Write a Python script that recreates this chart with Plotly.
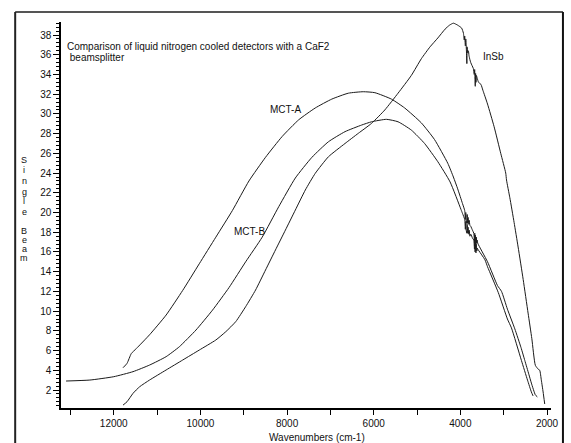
import plotly.graph_objects as go

# ---------------- data ----------------
mct_a_wn = [11786, 11694, 11595, 11480, 11174, 10792, 10409, 10027, 9644, 9262,
            8880, 8497, 8115, 7732, 7350, 6968, 6585, 6241, 5973, 5591, 5285,
            4903, 4597, 4291, 4161, 4062, 3950,
            3900, 3885, 3875, 3865, 3850, 3842, 3830, 3820, 3805, 3795, 3780,
            3760, 3720, 3690, 3675, 3668, 3660, 3652, 3640, 3632, 3620, 3610,
            3600, 3373, 3144, 3050, 2914, 2743, 2600, 2513, 2420, 2361, 2269, 2223]
mct_a_val = [4.26, 4.7, 5.7, 6.2, 7.6, 9.6, 12.1, 14.8, 17.5, 20.2,
             23.2, 25.6, 27.7, 29.4, 30.6, 31.5, 32.1, 32.25, 32.15, 31.5, 30.6,
             29.1, 27.4, 25.0, 23.6, 22.4, 20.9,
             20.2, 19.3, 20.0, 19.2, 18.9, 19.8, 18.9, 19.5, 18.8, 19.2, 18.7,
             18.6, 18.2, 17.9, 17.1, 17.9, 16.9, 17.7, 16.8, 17.5, 16.9, 17.2,
             16.9, 15.0, 12.6, 12.0, 10.2, 8.2, 6.3, 5.0, 3.6, 2.7, 1.5, 1.3]

mct_b_wn = [13101, 12551, 12000, 11556, 11174, 10792, 10486, 10103, 9721, 9338,
            8956, 8574, 8191, 7809, 7426, 7044, 6662, 6279, 6050, 5706, 5438,
            5132, 4826, 4520, 4237, 3985,
            3950, 3900, 3885, 3875, 3865, 3850, 3842, 3830, 3820, 3805, 3795,
            3780, 3760, 3720, 3690, 3675, 3668, 3660, 3652, 3640, 3632, 3620,
            3610, 3600, 3432, 3373, 3126, 2914, 2821, 2591, 2450, 2361, 2322]
mct_b_val = [2.91, 3.01, 3.35, 3.86, 4.53, 5.38, 6.39, 8.08, 10.1, 12.4,
             15.0, 17.5, 20.6, 23.5, 25.6, 27.18, 28.2, 28.87, 29.2, 29.45, 29.2,
             28.36, 27.0, 25.15, 23.1, 20.3,
             19.9, 19.3, 18.3, 19.1, 18.2, 17.9, 18.8, 17.9, 18.5, 17.8, 18.2,
             17.6, 17.8, 17.4, 17.2, 16.3, 17.1, 16.0, 16.9, 15.9, 16.8, 16.1,
             16.4, 16.3, 15.2, 14.5, 11.9, 9.2, 8.3, 5.0, 3.0, 1.8, 1.4]

insb_wn = [11786, 11694, 11556, 11403, 11174, 10792, 10409, 10027, 9644, 9415,
           9185, 8956, 8727, 8497, 8268, 8038, 7809, 7579, 7350, 7044, 6662,
           6356, 6050, 5744, 5438, 5132, 4900, 4700, 4520, 4352, 4250, 4161,
           4062, 3970, 3930,
           3910, 3900, 3885, 3875, 3860, 3850, 3845, 3830, 3815, 3800, 3780,
           3760, 3730, 3700, 3680, 3670, 3662, 3656, 3648, 3640, 3630, 3610, 3580,
           3526, 3480, 3373, 3221, 3068, 2953, 2935, 2858, 2760, 2667, 2550,
           2437, 2350, 2269, 2200, 2168, 2131, 2090, 2053]
insb_val = [0.47, 0.81, 1.66, 2.33, 3.01, 4.03, 5.04, 6.05, 7.07, 7.91,
            8.93, 10.45, 12.14, 14.17, 16.2, 18.22, 20.25, 22.28, 23.97, 25.66, 27.0,
            28.03, 29.04, 30.4, 32.1, 33.9, 35.6, 36.8, 37.7, 38.6, 39.0, 39.2,
            39.0, 38.7, 38.2,
            37.5, 37.9, 36.9, 37.6, 36.4, 35.1, 36.8, 36.2, 36.4, 35.9, 35.5,
            35.2, 34.9, 34.6, 34.0, 34.5, 33.4, 32.8, 34.1, 33.2, 33.9, 33.6, 33.2,
            33.0, 32.4, 31.0, 28.7, 26.0, 24.0, 23.3, 21.5, 19.0, 16.5, 13.2,
            9.8, 7.2, 4.5, 4.1, 4.0, 3.0, 1.8, 0.58]

series = [("MCT-A", mct_a_wn, mct_a_val),
          ("MCT-B", mct_b_wn, mct_b_val),
          ("InSb", insb_wn, insb_val)]

x_range = [13218, 1908]
y_range = [0.175, 39.32]

title_lines = ["Comparison of liquid nitrogen cooled detectors with a CaF2",
               " beamsplitter"]
x_title = "Wavenumbers (cm-1)"
y_title_letters = ["S", "i", "n", "g", "l", "e", "B", "e", "a", "m"]

# ---------------- layout geometry ----------------
W, H = 571, 443
L, R, T, B = 61, 18, 22, 35
pw, ph = W - L - R, H - T - B


def pxx(x):
    return (x - L) / pw


def pxy(y):
    return 1 - (y - T) / ph


FONT = "Arial, 'Liberation Sans', sans-serif"

fig = go.Figure()
for name, wn, val in series:
    fig.add_trace(go.Scatter(x=wn, y=val, mode="lines", name=name,
                             line=dict(color="#1a1a1a", width=1,
                                       shape="spline", smoothing=0.5),
                             hoverinfo="skip", showlegend=False))

fig.update_layout(
    width=W, height=H,
    margin=dict(l=L, r=R, t=T, b=B),
    paper_bgcolor="white", plot_bgcolor="white",
    showlegend=False,
    font=dict(family=FONT, size=10, color="#111111"),
)

fig.update_xaxes(range=x_range, showgrid=False, zeroline=False,
                 showline=True, linecolor="black", linewidth=1.5,
                 ticks="outside", ticklen=5, tickwidth=1, tickcolor="black",
                 tick0=0, dtick=2000, tickformat="d",
                 tickfont=dict(family=FONT, size=10, color="#111111"),
                 minor=dict(dtick=1000, tick0=0, ticks="outside", ticklen=5,
                            tickwidth=1, tickcolor="black", showgrid=False))

fig.update_yaxes(range=y_range, showgrid=False, zeroline=False,
                 showline=True, linecolor="black", linewidth=1.5,
                 ticks="outside", ticklen=6, tickwidth=1, tickcolor="black",
                 tick0=0, dtick=2,
                 tickfont=dict(family=FONT, size=10, color="#111111"),
                 minor=dict(dtick=0.4, tick0=0, ticks="outside", ticklen=3,
                            tickwidth=1, tickcolor="black", showgrid=False))

ann = []
# title lines
ann.append(dict(x=pxx(65), y=pxy(46), xref="paper", yref="paper",
                text=title_lines[0], showarrow=False, xanchor="left",
                yanchor="middle", font=dict(size=10, family=FONT)))
ann.append(dict(x=pxx(65), y=pxy(57.5), xref="paper", yref="paper",
                text=title_lines[1], showarrow=False, xanchor="left",
                yanchor="middle", font=dict(size=10, family=FONT)))
# curve labels
for text, x, y in [("MCT-A", 269, 109), ("MCT-B", 233, 231), ("InSb", 483, 57)]:
    ann.append(dict(x=pxx(x), y=pxy(y), xref="paper", yref="paper", text=text,
                    showarrow=False, xanchor="left", yanchor="middle",
                    font=dict(size=10, family=FONT)))
# x axis title
ann.append(dict(x=pxx(318), y=pxy(437), xref="paper", yref="paper",
                text=x_title, showarrow=False, xanchor="center",
                yanchor="middle", font=dict(size=10, family=FONT)))
# vertical stacked y title (letter centres measured on the reference)
letter_y = [160, 169.5, 180.5, 191.5, 201, 211.5, 231, 239.8, 248.6, 257.5]
for ch, yy in zip(y_title_letters, letter_y):
    ann.append(dict(x=pxx(24), y=pxy(yy), xref="paper", yref="paper",
                    text=ch, showarrow=False, xanchor="center",
                    yanchor="middle", font=dict(size=9, family=FONT)))
fig.update_layout(annotations=ann)

# outer frame, drawn as separate paper lines
fx0, fx1, fy0, fy1 = pxx(15), pxx(565), pxy(12), pxy(450)
frame = [(fx0, fy0, fx1, fy0, "#555555"),   # top
         (fx0, fy0, fx0, fy1, "#222222"),   # left
         (fx1, fy0, fx1, fy1, "#111111")]   # right
for x0, y0, x1, y1, col in frame:
    fig.add_shape(type="line", xref="paper", yref="paper",
                  x0=x0, y0=y0, x1=x1, y1=y1,
                  line=dict(color=col, width=2), layer="above")

fig.write_html(
    "out.html",
    config={"displayModeBar": False},
    post_script=("document.documentElement.style.margin='0';"
                 "document.body.style.margin='0';"
                 "document.body.style.overflow='hidden';"
                 "document.documentElement.style.overflow='hidden';"),
)
